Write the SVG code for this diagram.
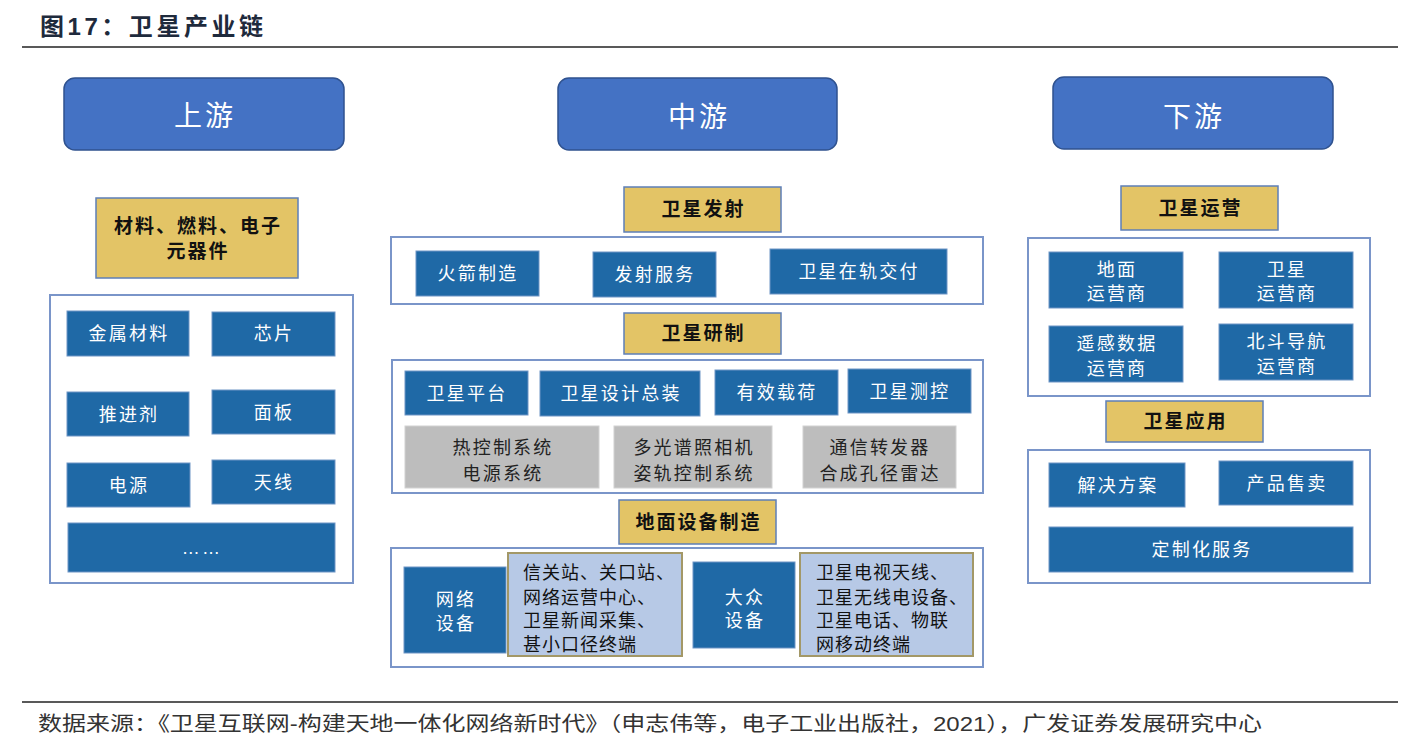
<svg xmlns="http://www.w3.org/2000/svg" width="1425" height="755" viewBox="0 0 1425 755">
<style>
text{font-family:"Liberation Sans","Noto Sans CJK SC",sans-serif;}
.hdr{fill:#4472C4;stroke:#2F528F;stroke-width:1.5}
.hdrt{fill:#fff;font-size:28px;text-anchor:middle;letter-spacing:3px}
.cat{fill:#E3C466;stroke:#5E7FB8;stroke-width:1.5}
.catt{fill:#111;font-size:19px;font-weight:bold;text-anchor:middle;letter-spacing:2px}
.cont{fill:#fff;stroke:#7A95C9;stroke-width:2}
.box{fill:#1F69A6;stroke:#6E95C5;stroke-width:1}
.boxt{fill:#fff;font-size:18px;text-anchor:middle;letter-spacing:2.2px}
.grey{fill:#BDBDBD;stroke:#D2D2D2;stroke-width:1}
.greyt{fill:#222;font-size:18px;text-anchor:middle;letter-spacing:2.2px}
.lb{fill:#B7C9E6;stroke:#A39867;stroke-width:2}
.lbt{fill:#111;font-size:18px;letter-spacing:1px}
.rule{stroke:#595959;stroke-width:2}
</style>
<g id="title">
<text x="40" y="35" font-size="24" font-weight="bold" fill="#1E2A3C" textLength="223" lengthAdjust="spacing">图17：卫星产业链</text>
<line class="rule" x1="22" y1="47" x2="1398" y2="47"/>
</g>
<g id="connectors"></g>

<g id="h-up"><rect class="hdr" x="64" y="78" width="280" height="72" rx="11"/><text class="hdrt" x="205" y="126">上游</text></g>
<g id="h-mid"><rect class="hdr" x="558" y="78" width="279" height="72" rx="11"/><text class="hdrt" x="699" y="127">中游</text></g>
<g id="h-down"><rect class="hdr" x="1053" y="77" width="280" height="72" rx="11"/><text class="hdrt" x="1194" y="127">下游</text></g>

<!-- upstream -->
<g id="cat-materials"><rect class="cat" x="96" y="198" width="202" height="80"/><text class="catt" x="198" y="233">材料、燃料、电子</text><text class="catt" x="198" y="258">元器件</text></g>
<g id="cont-up"><rect class="cont" x="50" y="295" width="303" height="288"/></g>
<g id="n-metal"><rect class="box" x="67" y="311" width="122" height="45"/><text class="boxt" x="129" y="340">金属材料</text></g>
<g id="n-chip"><rect class="box" x="212" y="312" width="123" height="44"/><text class="boxt" x="274" y="340">芯片</text></g>
<g id="n-propellant"><rect class="box" x="67" y="392" width="122" height="44"/><text class="boxt" x="129" y="420.5">推进剂</text></g>
<g id="n-panel"><rect class="box" x="212" y="390" width="123" height="44"/><text class="boxt" x="274" y="418.5">面板</text></g>
<g id="n-power"><rect class="box" x="67" y="463" width="123" height="44"/><text class="boxt" x="129" y="491.5">电源</text></g>
<g id="n-antenna"><rect class="box" x="212" y="460" width="123" height="44"/><text class="boxt" x="274" y="488.5">天线</text></g>
<g id="n-more"><rect class="box" x="68" y="523" width="267" height="49"/><text class="boxt" x="202" y="554">……</text></g>

<!-- midstream -->
<g id="cat-launch"><rect class="cat" x="624" y="187" width="157" height="45"/><text class="catt" x="703.5" y="216">卫星发射</text></g>
<g id="cont-launch"><rect class="cont" x="391" y="237" width="592" height="67"/></g>
<g id="n-rocket"><rect class="box" x="416" y="251" width="123" height="45"/><text class="boxt" x="478" y="280">火箭制造</text></g>
<g id="n-launchsvc"><rect class="box" x="593" y="252" width="123" height="45"/><text class="boxt" x="655" y="281">发射服务</text></g>
<g id="n-delivery"><rect class="box" x="770" y="249" width="177" height="45"/><text class="boxt" x="859" y="278">卫星在轨交付</text></g>

<g id="cat-develop"><rect class="cat" x="624" y="313" width="157" height="41"/><text class="catt" x="703.5" y="340">卫星研制</text></g>
<g id="cont-develop"><rect class="cont" x="392" y="360" width="591" height="133"/></g>
<g id="n-platform"><rect class="box" x="405" y="371" width="123" height="44"/><text class="boxt" x="467" y="399.5">卫星平台</text></g>
<g id="n-design"><rect class="box" x="540" y="371" width="160" height="45"/><text class="boxt" x="621" y="400">卫星设计总装</text></g>
<g id="n-payload"><rect class="box" x="715" y="370" width="123" height="45"/><text class="boxt" x="777" y="399">有效载荷</text></g>
<g id="n-ttc"><rect class="box" x="848" y="369" width="123" height="44"/><text class="boxt" x="910" y="397.5">卫星测控</text></g>
<g id="n-thermal"><rect class="grey" x="405" y="426" width="194" height="62"/><text class="greyt" x="503" y="453.5">热控制系统</text><text class="greyt" x="503" y="479.5">电源系统</text></g>
<g id="n-camera"><rect class="grey" x="614" y="426" width="158" height="62"/><text class="greyt" x="694" y="453.5">多光谱照相机</text><text class="greyt" x="694" y="479.5">姿轨控制系统</text></g>
<g id="n-transponder"><rect class="grey" x="803" y="426" width="153" height="62"/><text class="greyt" x="880" y="453.5">通信转发器</text><text class="greyt" x="880" y="479.5">合成孔径雷达</text></g>

<g id="cat-ground"><rect class="cat" x="619" y="500" width="157" height="44"/><text class="catt" x="698.5" y="528.5">地面设备制造</text></g>
<g id="cont-ground"><rect class="cont" x="391" y="548" width="592" height="119"/></g>
<g id="n-network"><rect class="box" x="404" y="567" width="102" height="86"/><text class="boxt" x="456" y="605.5">网络</text><text class="boxt" x="456" y="629.5">设备</text></g>
<g id="n-network-list"><rect class="lb" x="508" y="553" width="174" height="103"/>
<text class="lbt" x="523" y="579">信关站、关口站、</text>
<text class="lbt" x="523" y="603.5">网络运营中心、</text>
<text class="lbt" x="523" y="627">卫星新闻采集、</text>
<text class="lbt" x="523" y="651">甚小口径终端</text></g>
<g id="n-consumer"><rect class="box" x="693" y="562" width="102" height="86"/><text class="boxt" x="745" y="603.5">大众</text><text class="boxt" x="745" y="626.5">设备</text></g>
<g id="n-consumer-list"><rect class="lb" x="800" y="553" width="173" height="103"/>
<text class="lbt" x="816" y="579">卫星电视天线、</text>
<text class="lbt" x="816" y="603.5">卫星无线电设备、</text>
<text class="lbt" x="816" y="627">卫星电话、物联</text>
<text class="lbt" x="816" y="651">网移动终端</text></g>

<!-- downstream -->
<g id="cat-operation"><rect class="cat" x="1121" y="186" width="157" height="44"/><text class="catt" x="1200.5" y="214.5">卫星运营</text></g>
<g id="cont-operation"><rect class="cont" x="1028" y="238" width="342" height="158"/></g>
<g id="n-groundop"><rect class="box" x="1049" y="252" width="134" height="56"/><text class="boxt" x="1117" y="275.5">地面</text><text class="boxt" x="1117" y="299.5">运营商</text></g>
<g id="n-satop"><rect class="box" x="1219" y="252" width="134" height="56"/><text class="boxt" x="1287" y="275.5">卫星</text><text class="boxt" x="1287" y="299.5">运营商</text></g>
<g id="n-rsop"><rect class="box" x="1049" y="326" width="134" height="56"/><text class="boxt" x="1117" y="349.5">遥感数据</text><text class="boxt" x="1117" y="374.5">运营商</text></g>
<g id="n-bdsop"><rect class="box" x="1219" y="324" width="134" height="56"/><text class="boxt" x="1287" y="347.5">北斗导航</text><text class="boxt" x="1287" y="372.5">运营商</text></g>

<g id="cat-application"><rect class="cat" x="1106" y="401" width="157" height="41"/><text class="catt" x="1185.5" y="428">卫星应用</text></g>
<g id="cont-application"><rect class="cont" x="1028" y="450" width="342" height="133"/></g>
<g id="n-solution"><rect class="box" x="1049" y="463" width="136" height="44"/><text class="boxt" x="1118" y="491.5">解决方案</text></g>
<g id="n-sales"><rect class="box" x="1219" y="461" width="134" height="44"/><text class="boxt" x="1287" y="489.5">产品售卖</text></g>
<g id="n-custom"><rect class="box" x="1049" y="527" width="304" height="45"/><text class="boxt" x="1202" y="556">定制化服务</text></g>

<g id="footer">
<line class="rule" x1="22" y1="702" x2="1398" y2="702"/>
<text x="38" y="731" font-size="20" fill="#333" textLength="1224" lengthAdjust="spacingAndGlyphs">数据来源：《卫星互联网-构建天地一体化网络新时代》（申志伟等，电子工业出版社，2021），广发证券发展研究中心</text>
</g>
</svg>
